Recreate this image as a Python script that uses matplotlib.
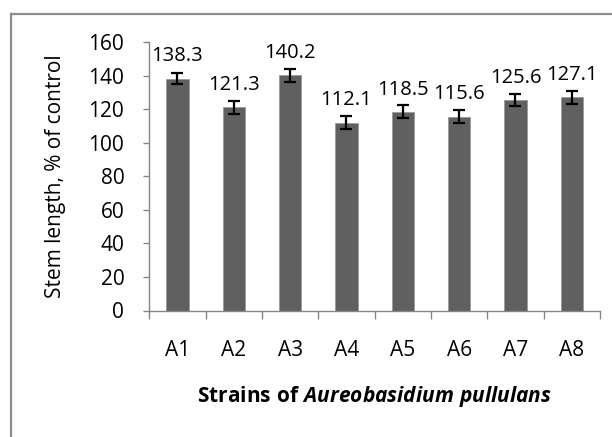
import matplotlib as mpl
import matplotlib.pyplot as plt
import matplotlib.lines as mlines
import numpy as np

mpl.rcParams['font.family'] = ['Open Sans', 'DejaVu Sans']
mpl.rcParams['mathtext.fontset'] = 'custom'
mpl.rcParams['mathtext.rm'] = 'Open Sans:bold'
mpl.rcParams['mathtext.bf'] = 'Open Sans:bold'
mpl.rcParams['mathtext.it'] = 'Open Sans:bold:italic'

# data
strains = ['A1', 'A2', 'A3', 'A4', 'A5', 'A6', 'A7', 'A8']
stem_len = [138.3, 121.3, 140.2, 112.1, 118.5, 115.6, 125.6, 127.1]
errs = [3.3, 3.9, 3.8, 4.0, 3.8, 3.9, 3.7, 3.8]
yticks = [0, 20, 40, 60, 80, 100, 120, 140, 160]

bar_color = '#606060'
ax_color = '#868686'
fs = 15

fig = plt.figure(figsize=(6.12, 4.37), dpi=100)
ax = fig.add_axes([149.3/612, 1-310.5/437, 450.7/612, 268.2/437])

x = np.arange(len(strains))
bars = ax.bar(x, stem_len, width=0.4, color=bar_color, edgecolor='#9a9a9a', linewidth=0.6, zorder=2)
ax.errorbar(x, stem_len, yerr=errs, fmt='none', ecolor='black', elinewidth=1.6,
            capsize=4.5, capthick=1.6, zorder=3)

for xi, v in zip(x, stem_len):
    ax.annotate(f'{v:.1f}', (xi, v), textcoords='offset points', xytext=(0, 12.5),
                ha='center', va='baseline', fontsize=fs - 0.5, color='black')

ax.set_xlim(-0.5, 7.5)
ax.set_ylim(0, 160)
ax.set_yticks(yticks)
ax.set_xticks(x)
ax.set_xticklabels(strains)
ax.set_xticks(np.arange(-0.5, 8.0, 1.0), minor=True)

for s in ['top', 'right']:
    ax.spines[s].set_visible(False)
for s in ['left', 'bottom']:
    ax.spines[s].set_color(ax_color)
    ax.spines[s].set_linewidth(1.0)

ax.tick_params(axis='y', direction='out', length=4, width=1.0, color=ax_color,
               labelsize=fs, pad=14, labelcolor='black')
ax.tick_params(axis='x', which='major', length=0, pad=21, labelsize=fs, labelcolor='black')
ax.tick_params(axis='x', which='minor', direction='out', length=6, width=1.0, color=ax_color)

ax.set_ylabel('Stem length, % of control', fontsize=fs, labelpad=16)
ax.set_xlabel(r'$\mathbf{Strains\ of}\ \mathit{Aureobasidium\ pullulans}$', fontsize=fs, labelpad=17)

# outer chart border (only left and top visible in the crop)
x0 = 10.7/612
y0 = 1 - 14.3/437
fig.add_artist(mlines.Line2D([x0, x0], [0, y0], color='#8c8c8c', lw=1.6, transform=fig.transFigure))
fig.add_artist(mlines.Line2D([x0, 1], [y0, y0], color='#8c8c8c', lw=1.6, transform=fig.transFigure))

fig.savefig('out.png', dpi=100)
